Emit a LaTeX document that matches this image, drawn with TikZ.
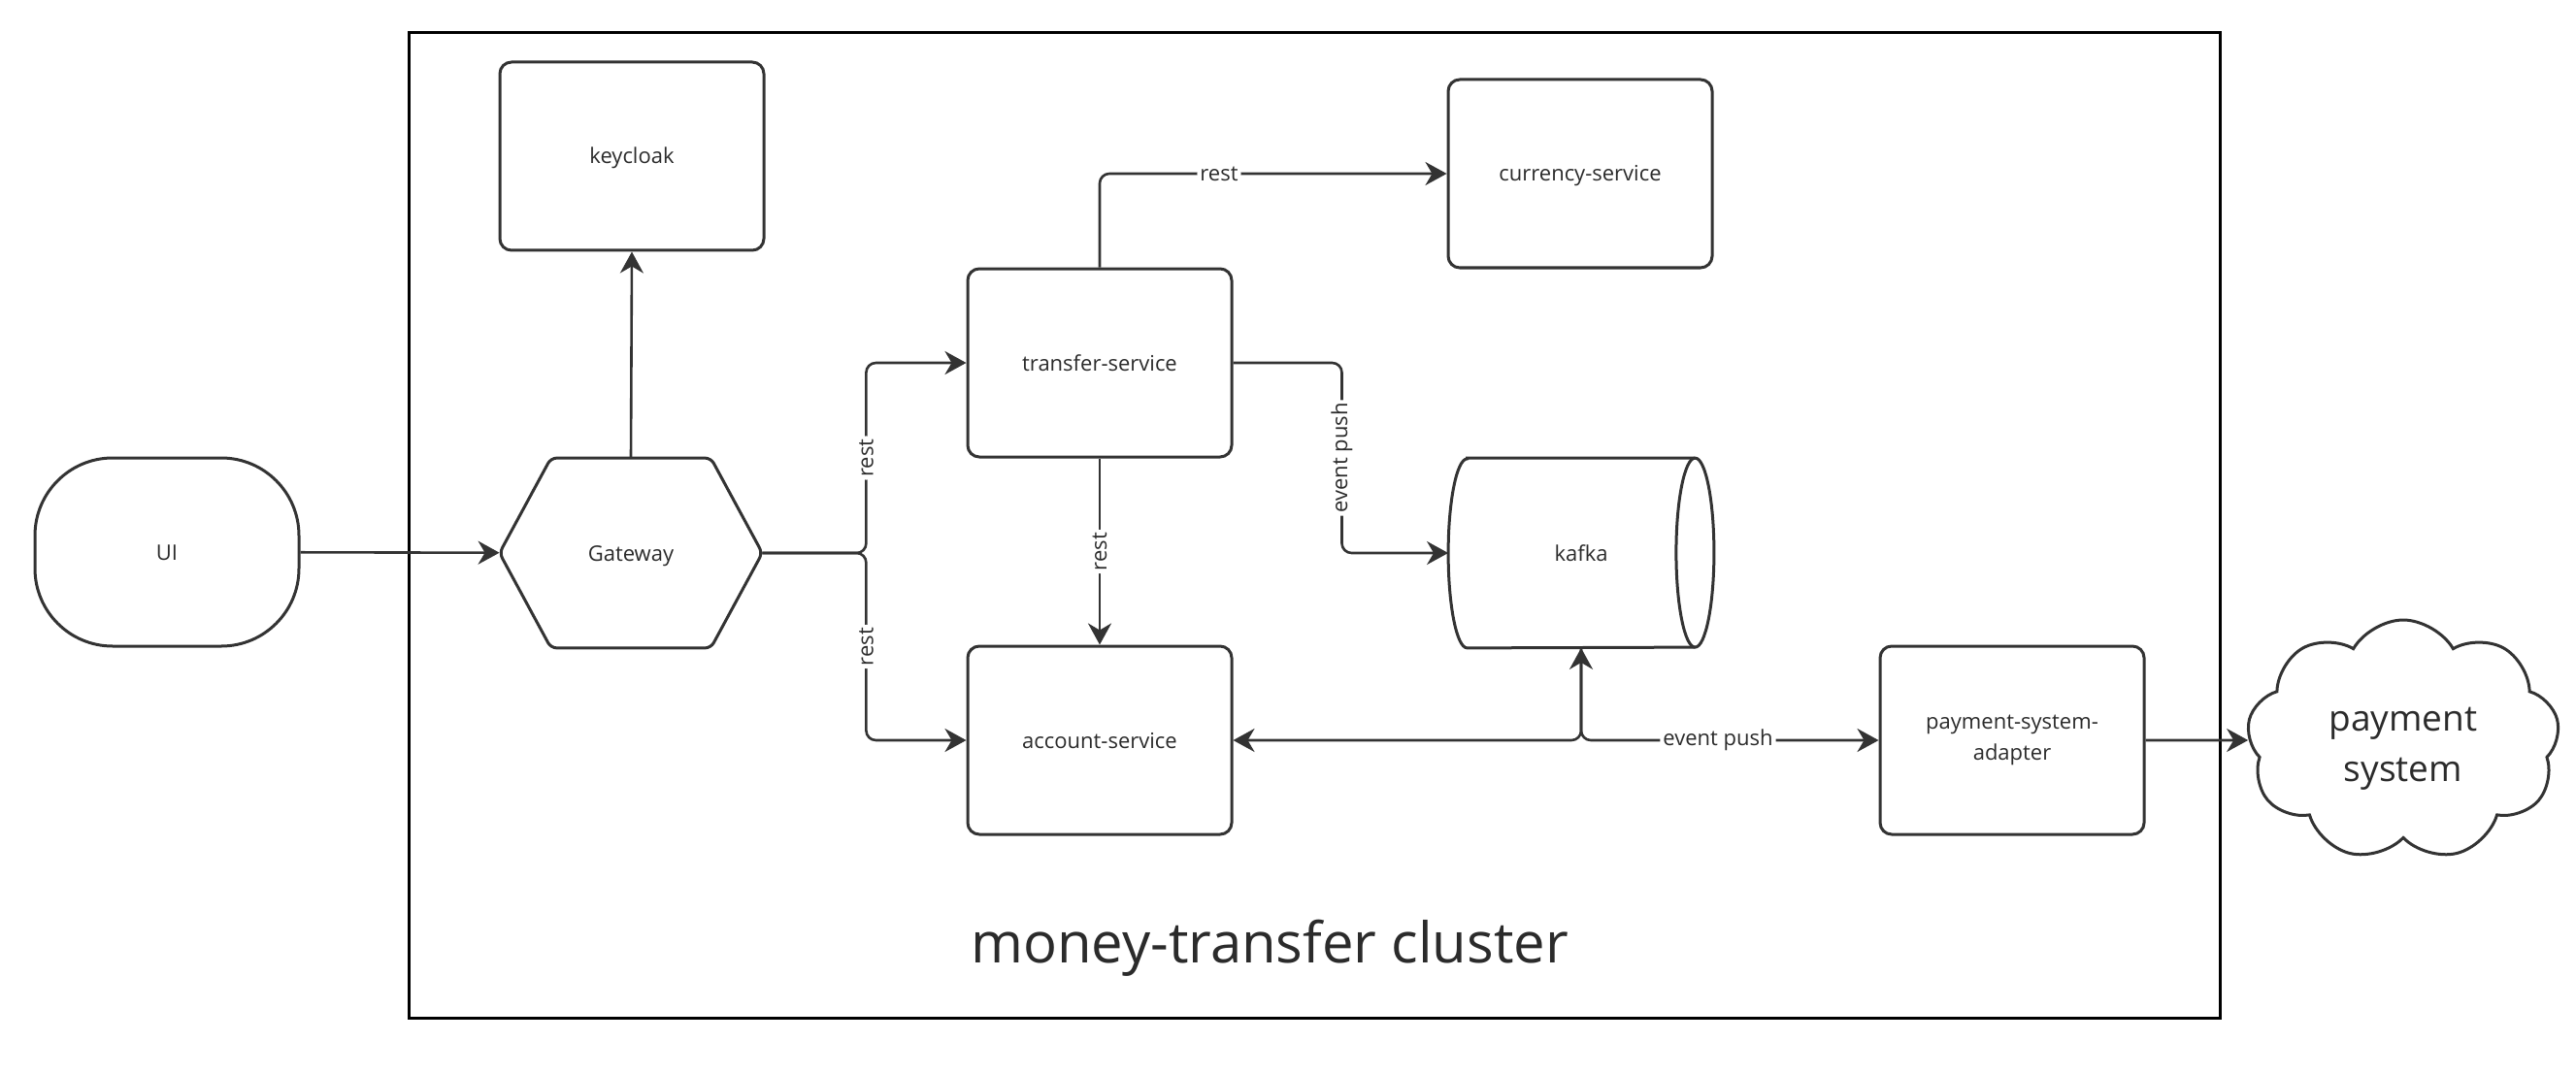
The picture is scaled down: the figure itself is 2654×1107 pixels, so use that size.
\documentclass[tikz,border=0pt]{standalone}
\usepackage{fontspec}
\setmainfont{Open Sans}
\usetikzlibrary{shapes.geometric,shapes.symbols,arrows.meta,positioning}
\definecolor{ln}{HTML}{333333}
\definecolor{tx}{HTML}{2B2B2B}
\begin{document}
\begin{tikzpicture}[x=0.5pt,y=-0.5pt,
  boxline/.style={draw=ln, line width=1.5pt},
  onetext/.style={text height=0.92em, text depth=0.12em},
  svc/.style={boxline, rounded corners=6pt, minimum width=136pt, minimum height=97pt, inner sep=2pt, font=\fontsize{11}{16}\selectfont, text=tx, align=center},
  conn/.style={draw=ln, line width=1.3pt, rounded corners=5pt, -{Stealth[length=11pt,width=12pt,inset=3.5pt]}},
  conn2/.style={draw=ln, line width=1.3pt, rounded corners=5pt, {Stealth[length=11pt,width=12pt,inset=3.5pt]}-{Stealth[length=11pt,width=12pt,inset=3.5pt]}},
  lbl/.style={fill=white, inner sep=1.5pt, font=\fontsize{11}{13}\selectfont, text=tx}
]
\useasboundingbox (0,0) rectangle (2654,1107);
\fill[white] (0,0) rectangle (2654,1107);

% cluster
\draw[black, line width=1.5pt] (421,34) rectangle (2287,1049);
\node[font=\fontsize{29}{34}\selectfont, text=tx] (cl) at (1308,977) {money-transfer cluster};

% nodes
\node[svc, onetext] (kc) at (651,161) {keycloak};
\node[svc, onetext, rounded corners=40pt] (ui) at (172,569) {UI};
\node[minimum width=135pt, minimum height=97.5pt, inner sep=0pt, font=\fontsize{11}{14}\selectfont, text=tx, onetext] (gw) at (650,570) {Gateway};
\draw[boxline, rounded corners=3pt] (gw.west) -- ([xshift=26.5pt]gw.north west) -- ([xshift=-26.5pt]gw.north east) -- (gw.east) -- ([xshift=-26.5pt]gw.south east) -- ([xshift=26.5pt]gw.south west) -- cycle;
\node[svc, onetext] (ts) at (1133,374) {transfer-service};
\node[svc, onetext] (cs) at (1628,179) {currency-service};
\node[svc, onetext] (as) at (1133,763) {account-service};
\node[svc] (psa) at (2073,763) {payment-system-\\adapter};
% kafka cylinder
\node[minimum width=136.5pt, minimum height=97.5pt, inner sep=0pt, font=\fontsize{11}{14}\selectfont, text=tx, onetext] (kf) at (1629,570) {kafka};
\draw[boxline] ([xshift=9.75pt]kf.north west) -- ([xshift=-9.75pt]kf.north east)
  arc[start angle=90, end angle=-90, x radius=9.75pt, y radius=48.75pt]
  -- ([xshift=9.75pt]kf.south west)
  arc[start angle=270, end angle=90, x radius=9.75pt, y radius=48.75pt] -- cycle;
\draw[boxline] ([xshift=-9.75pt]kf.north east) arc[start angle=90, end angle=270, x radius=9.75pt, y radius=48.75pt];
% cloud
\node[boxline, cloud, cloud puffs=9, cloud puff arc=120, aspect=1.3, minimum width=161pt, minimum height=124pt, inner sep=0pt] (ps) at (2476,763) {};
\node[font=\fontsize{18.5}{26}\selectfont, text=tx, align=center] (pst) at (2476,772) {payment\\system};

% connectors
\draw[conn] (ui) -- (gw);
\draw[conn] (gw.north) -- (kc.south);
\draw[conn] (gw.east) -- ([xshift=53.5pt]gw.east) |- node[lbl, rotate=90, pos=0.25] {rest} (ts.west);
\draw[conn] (gw.east) -- ([xshift=53.5pt]gw.east) |- node[lbl, rotate=90, pos=0.25] {rest} (as.west);
\draw[conn] (ts.north) |- node[lbl, pos=0.672] {rest} (cs.west);
\draw[conn] (ts.south) -- node[lbl, rotate=90] {rest} (as.north);
\draw[conn] (ts.east) -- ([xshift=56pt]ts.east) |- node[lbl, rotate=90, pos=0.25] {event push} (kf.west);
\draw[conn2] (as.east) -| (kf.south);
\draw[conn] (kf.south) |- node[lbl, pos=0.73] {event push} (psa.west);
\draw[conn] (psa.east) -- (ps.west);
\end{tikzpicture}
\end{document}
